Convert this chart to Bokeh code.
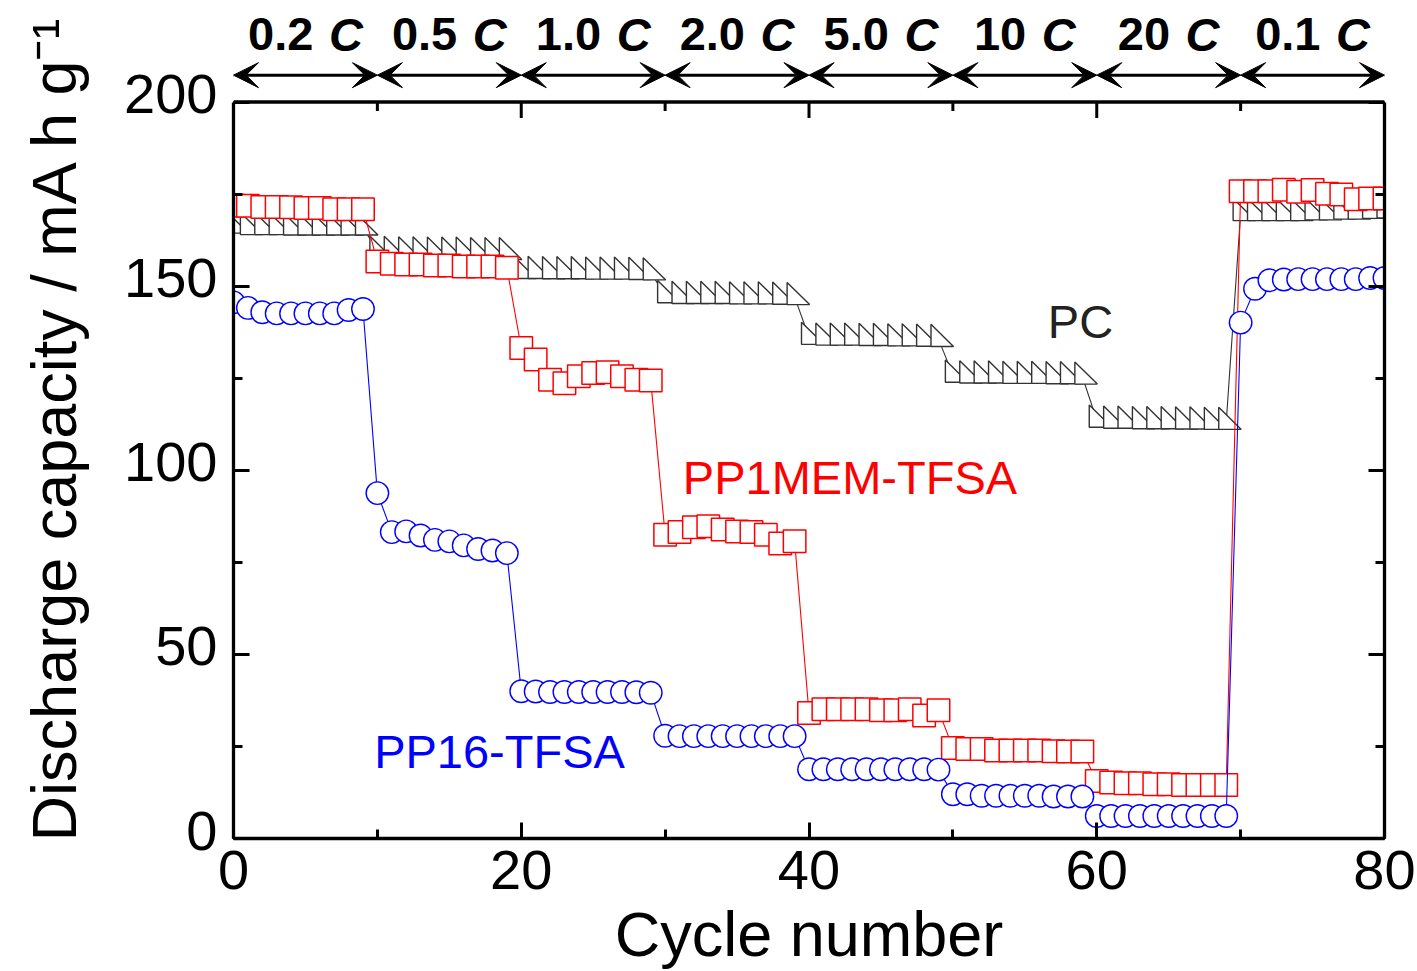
from bokeh.plotting import figure
from bokeh.models import (Range1d, LinearAxis, SingleIntervalTicker, Label, Arrow, VeeHead)
from bokeh.embed import file_html
from bokeh.resources import INLINE

# ---------------- data ----------------
cycles = list(range(81))

pc = [166.4, 166.0, 166.0, 166.0, 165.9, 165.9, 165.9, 165.9, 165.9, 165.9,
      159.6, 159.5, 159.4, 159.4, 159.3, 159.3, 159.3, 159.2, 159.2, 159.2,
      154.1, 154.1, 154.0, 154.0, 154.0, 153.9, 153.9, 153.9, 153.8, 153.7,
      147.5, 147.3, 147.3, 147.3, 147.3, 147.2, 147.2, 147.2, 147.1, 147.0,
      136.2, 136.0, 136.0, 136.0, 135.9, 135.9, 135.8, 135.8, 135.7, 135.6,
      125.9, 125.7, 125.7, 125.7, 125.6, 125.6, 125.6, 125.5, 125.5, 125.4,
      113.7, 113.4, 113.4, 113.3, 113.3, 113.3, 113.2, 113.2, 113.1, 113.1,
      169.8, 169.8, 169.8, 169.8, 169.8, 170.0, 170.0, 170.2, 170.2, 170.4, 170.5]

pp1mem = [171.8, 171.8, 171.5, 171.5, 171.4, 171.2, 171.2, 170.9, 170.9, 170.9,
          156.7, 156.1, 155.9, 155.9, 155.6, 155.6, 155.3, 155.3, 155.3, 155.0,
          133.2, 130.1, 124.6, 123.6, 125.5, 126.4, 126.6, 125.5, 124.6, 124.4,
          82.5, 83.2, 84.5, 84.8, 83.9, 83.4, 83.2, 82.5, 80.1, 80.7,
          34.1, 35.1, 35.1, 35.1, 35.1, 34.8, 34.8, 35.1, 33.4, 34.8,
          24.6, 24.3, 24.3, 23.9, 23.9, 23.9, 23.9, 23.7, 23.6, 23.6,
          15.6, 15.2, 15.0, 15.0, 14.7, 14.7, 14.5, 14.5, 14.5, 14.5,
          175.8, 175.8, 175.8, 176.2, 175.6, 176.1, 175.1, 174.9, 173.6, 173.8, 173.8]

pp16 = [145.6, 144.1, 142.9, 142.6, 142.6, 142.6, 142.6, 142.6, 143.5, 143.8,
        93.8, 83.2, 83.4, 82.3, 81.1, 80.7, 79.6, 78.6, 78.2, 77.5,
        40.0, 39.9, 39.8, 39.8, 39.8, 39.8, 39.8, 39.8, 39.7, 39.6,
        27.9, 27.8, 27.8, 27.8, 27.8, 27.8, 27.8, 27.8, 27.8, 27.8,
        18.8, 18.8, 18.8, 18.8, 18.8, 18.8, 18.8, 18.8, 18.8, 18.7,
        12.0, 12.0, 11.6, 11.6, 11.6, 11.6, 11.6, 11.4, 11.4, 11.4,
        6.1, 6.1, 6.1, 6.1, 6.1, 6.1, 6.1, 6.1, 6.1, 6.1,
        140.1, 149.3, 151.6, 151.8, 151.9, 151.9, 151.9, 151.9, 151.9, 152.2, 152.2]

rate_labels = ["0.2", "0.5", "1.0", "2.0", "5.0", "10", "20", "0.1"]
rate_bounds = [0, 10, 20, 30, 40, 50, 60, 70, 80]

x_major_ticks = [0, 20, 40, 60, 80]
x_minor_ticks = [10, 30, 50, 70]

series_names = ["PC", "PP1MEM-TFSA", "PP16-TFSA"]

# ---------------- layout constants ----------------
W, H = 1417, 971
LEFT, RIGHT, BOTTOM = 233, 33, 129
FW = W - LEFT - RIGHT          # 1151
FH = H - BOTTOM                # frame runs to the top of the canvas
SY = 740 / 200.0               # px per mAh/g  (0..200 spans 740 px)
SX = FW / 80.0
YTOP = FH / SY                 # data value at the top of the canvas

FONT = "Liberation Sans"
PC_COL = "#333333"
RED = "#ff0000"
BLUE = "#0000ff"


def yv(py):
    """data y for a picture row (frame bottom at row H-BOTTOM)."""
    return (FH - py) / SY


p = figure(width=W, height=H, x_range=Range1d(0, 80), y_range=Range1d(0, YTOP),
           output_backend="svg", toolbar_location=None,
           min_border_left=LEFT, min_border_right=RIGHT,
           min_border_top=0, min_border_bottom=BOTTOM,
           background_fill_color="white", border_fill_color="white")
p.xgrid.visible = False
p.ygrid.visible = False
p.outline_line_color = None


def style_axis(ax):
    ax.axis_line_width = 3.3
    ax.axis_line_color = "black"
    ax.major_tick_in = 16
    ax.major_tick_out = 0
    ax.minor_tick_in = 9
    ax.minor_tick_out = 0
    ax.major_tick_line_width = 3
    ax.minor_tick_line_width = 3
    ax.major_tick_line_color = "black"
    ax.minor_tick_line_color = "black"
    ax.major_label_text_font = FONT
    ax.major_label_text_font_size = "56px"
    ax.major_label_text_color = "black"
    ax.axis_label_text_font = FONT
    ax.axis_label_text_font_style = "normal"
    ax.axis_label_text_color = "black"


# bottom axis
p.xaxis.ticker = SingleIntervalTicker(interval=20, num_minor_ticks=2)
style_axis(p.xaxis[0])
p.xaxis.major_label_standoff = 12
p.xaxis.axis_label = "Cycle number"
p.xaxis.axis_label_text_font_size = "63px"
p.xaxis.axis_label_standoff = 7

# left axis: ticks only (labels come from a slightly shifted twin axis)
p.yaxis.ticker = SingleIntervalTicker(interval=50, num_minor_ticks=2)
style_axis(p.yaxis[0])
p.yaxis.bounds = (0, 200)
p.yaxis.major_label_text_color = None
p.yaxis.major_label_text_font_size = "0px"
p.yaxis.major_label_standoff = 0

LAB_SHIFT = 8 / SY
p.extra_y_ranges = {"lab": Range1d(-LAB_SHIFT, YTOP - LAB_SHIFT)}
lab_ax = LinearAxis(y_range_name="lab", ticker=SingleIntervalTicker(interval=50, num_minor_ticks=0),
                    bounds=(0, 200))
style_axis(lab_ax)
lab_ax.axis_line_color = None
lab_ax.major_tick_line_color = None
lab_ax.minor_tick_line_color = None
lab_ax.major_label_standoff = 16
# one trailing no-break space nudges the centred title slightly downwards
lab_ax.axis_label = "Discharge capacity / mA h g\u207b\u00b9\u00a0"
lab_ax.axis_label_text_font_size = "63px"
lab_ax.axis_label_standoff = 32
p.add_layout(lab_ax, "left")

# right axis (ticks only)
right_ax = LinearAxis(ticker=SingleIntervalTicker(interval=50, num_minor_ticks=2), bounds=(0, 200))
style_axis(right_ax)
right_ax.major_label_text_color = None
right_ax.major_label_text_font_size = "0px"
right_ax.major_label_standoff = 0
p.add_layout(right_ax, "right")

# top frame edge with inward ticks at y = 200
p.segment(x0=[0], y0=[200], x1=[80], y1=[200], line_color="black", line_width=3.3)
p.segment(x0=x_major_ticks, y0=[200] * len(x_major_ticks), x1=x_major_ticks,
          y1=[200 - 16 / SY] * len(x_major_ticks), line_color="black", line_width=3)
p.segment(x0=x_minor_ticks, y0=[200] * len(x_minor_ticks), x1=x_minor_ticks,
          y1=[200 - 9 / SY] * len(x_minor_ticks), line_color="black", line_width=3)

# PC: right-triangle symbols built from the data through the plot scales
TW, TH = 22.5 / SX, 22.3 / SY
tri_xs = [[c - TW / 3, c - TW / 3, c + 2 * TW / 3] for c in cycles]
tri_ys = [[v + 2 * TH / 3, v - TH / 3, v - TH / 3] for v in pc]
p.line(cycles, pc, line_color=PC_COL, line_width=1.1)
p.patches(tri_xs, tri_ys, fill_color="white", line_color=PC_COL, line_width=1.4)

# PP1MEM-TFSA: squares
p.line(cycles, pp1mem, line_color=RED, line_width=1.1)
p.scatter(cycles, pp1mem, marker="square", size=22.5, fill_color="white",
          line_color=RED, line_width=1.5)

# PP16-TFSA: circles
p.line(cycles, pp16, line_color=BLUE, line_width=1.1)
p.scatter(cycles, pp16, marker="circle", size=22.5, fill_color="white",
          line_color=BLUE, line_width=1.4)


def xv(px):
    return (px - LEFT) / SX


for name, px, py, col in ((series_names[0], 1080, 323, "#222222"),
                          (series_names[1], 849.5, 479, RED),
                          (series_names[2], 499, 755, BLUE)):
    p.add_layout(Label(x=xv(px), y=yv(py), text=name, text_align="center",
                       text_baseline="middle", text_font=FONT, text_font_size="47px",
                       text_color=col))

# ---------------- C-rate arrows and labels above the data area ----------------
RFS = 47
char_w = {".": 0.278}
arrow_y = yv(75)
label_y = yv(34)
for i, lab in enumerate(rate_labels):
    a, b = rate_bounds[i], rate_bounds[i + 1]
    p.add_layout(Arrow(start=VeeHead(size=25, fill_color="black", line_color="black", line_width=1),
                       end=VeeHead(size=25, fill_color="black", line_color="black", line_width=1),
                       x_start=a, x_end=b, y_start=arrow_y, y_end=arrow_y,
                       line_color="black", line_width=3))
    mid = (a + b) / 2
    wn = sum(char_w.get(ch, 0.556) for ch in lab) * RFS
    wc = 0.722 * RFS
    g = 0.33 * RFS
    num_right = (wn - g - wc) / 2
    p.add_layout(Label(x=mid, y=label_y, x_offset=num_right, text=lab, text_align="right",
                       text_baseline="middle", text_font=FONT, text_font_size=f"{RFS}px",
                       text_font_style="bold", text_color="black"))
    p.add_layout(Label(x=mid, y=label_y, x_offset=num_right + g, text="C", text_align="left",
                       text_baseline="middle", text_font=FONT, text_font_size=f"{RFS}px",
                       text_font_style="bold italic", text_color="black"))

open("out.html", "w").write(file_html(p, INLINE))
